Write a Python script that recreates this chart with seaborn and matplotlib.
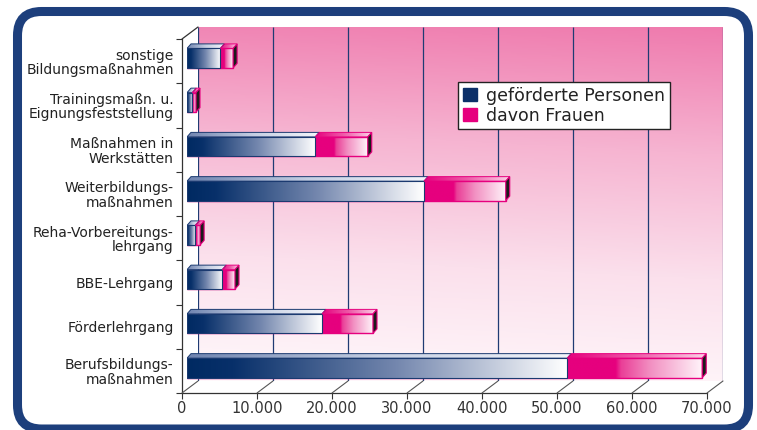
import numpy as np
import pandas as pd
import matplotlib
matplotlib.use("Agg")
import matplotlib.pyplot as plt
import seaborn as sns
from matplotlib.colors import LinearSegmentedColormap
from matplotlib.patches import Polygon, FancyBboxPatch, Patch
from matplotlib.lines import Line2D
from matplotlib.transforms import IdentityTransform

# ---------------- data ----------------
categories = [
    "sonstige\nBildungsmaßnahmen",
    "Trainingsmaßn. u.\nEignungsfeststellung",
    "Maßnahmen in\nWerkstätten",
    "Weiterbildungs-\nmaßnahmen",
    "Reha-Vorbereitungs-\nlehrgang",
    "BBE-Lehrgang",
    "Förderlehrgang",
    "Berufsbildungs-\nmaßnahmen",
]
personen = [4450, 700, 17100, 31600, 1100, 4700, 18000, 50700]
frauen = [1700, 500, 7000, 10900, 650, 1700, 6800, 18000]
x_ticks = [0, 10000, 20000, 30000, 40000, 50000, 60000, 70000]
series_labels = ["geförderte Personen", "davon Frauen"]

# ---------------- style ----------------
NAVY = "#0b2f68"
MAGENTA = "#e6007e"
BORDER = "#1d3f7c"
W, H = 757, 430

sns.set_theme(style="white")
plt.rcParams["font.family"] = ["DejaVu Sans"]

fig = plt.figure(figsize=(W / 100, H / 100), dpi=100)


def rect(x0, y0, x1, y1):
    return [x0 / W, 1 - y1 / H, (x1 - x0) / W, (y1 - y0) / H]


ax_back = fig.add_axes(rect(198, 27, 723, 381), zorder=0)
ax_front = fig.add_axes(rect(182, 39, 707, 393), zorder=1)
ax_bars = fig.add_axes(rect(187, 36, 712, 390), zorder=2)

n = len(categories)
xmax = x_ticks[-1]

# ---------------- back wall ----------------
wall_cmap = LinearSegmentedColormap.from_list(
    "wall", ["#fff8fb", "#fbe0ec", "#f6b4d1", "#ef7bae"])
ny, nx = 200, 300
yy = np.linspace(1, 0, ny)[:, None]
xx = np.linspace(0, 1, nx)[None, :]
field = np.clip(0.93 * yy + 0.07 * xx, 0, 1)
ax_back.imshow(field, cmap=wall_cmap, vmin=0, vmax=1, extent=[0, 1, 0, 1],
               transform=ax_back.transAxes, aspect="auto", zorder=0)
ax_back.set_xlim(0, xmax)
ax_back.set_ylim(0, 1)
ax_back.vlines(x_ticks, 0, 1, colors="#1f3b73", lw=0.9, zorder=1)
for s in ax_back.spines.values():
    s.set_visible(False)
ax_back.set_xticks([])
ax_back.set_yticks([])

# ---------------- front axes (ticks/labels) ----------------
ax_front.set_facecolor("none")
ax_front.set_xlim(0, xmax)
ax_front.set_ylim(n - 0.5, -0.5)
ax_front.set_xticks(x_ticks)
ax_front.set_xticklabels(["0" if v == 0 else f"{v:,}".replace(",", ".") for v in x_ticks])
ax_front.set_yticks(range(n))
ax_front.set_yticklabels(categories)
ax_front.set_yticks(np.arange(-0.5, n, 1.0), minor=True)
ax_front.tick_params(axis="y", which="major", length=0, pad=6, labelsize=10, labelcolor="#222222")
ax_front.tick_params(axis="y", which="minor", length=4, width=0.8, color="#333333", direction="out", left=True)
ax_front.tick_params(axis="x", which="major", length=4, width=0.8, color="#333333", direction="out",
                     pad=2, labelsize=10.5, labelcolor="#333333", bottom=True)
for lab in ax_front.get_yticklabels():
    lab.set_linespacing(1.05)
for side in ["top", "right"]:
    ax_front.spines[side].set_visible(False)
for side in ["left", "bottom"]:
    ax_front.spines[side].set_color("#333333")
    ax_front.spines[side].set_linewidth(0.9)
ax_front.grid(False)

# ---------------- bars ----------------
total = [p + f for p, f in zip(personen, frauen)]
df = pd.DataFrame({"Kategorie": categories, "Personen": personen, "Gesamt": total})

sns.barplot(data=df, y="Kategorie", x="Gesamt", orient="h", color=MAGENTA, saturation=1,
            width=0.44, ax=ax_bars, edgecolor=MAGENTA, linewidth=1.0)
sns.barplot(data=df, y="Kategorie", x="Personen", orient="h", color=NAVY, saturation=1,
            width=0.44, ax=ax_bars, edgecolor="#1b3a70", linewidth=0.8)

patches = list(ax_bars.patches)
pink_bars = patches[:n]
blue_bars = patches[n:2 * n]

blue_cmap = LinearSegmentedColormap.from_list(
    "blue", [(0, "#002a62"), (0.12, "#08306a"), (0.55, "#7487ae"), (1, "#ffffff")])
pink_cmap = LinearSegmentedColormap.from_list(
    "pink", [(0, MAGENTA), (0.36, MAGENTA), (0.40, "#ea3e97"), (0.62, "#f290c2"), (1, "#fff3f9")])
bluetop_cmap = LinearSegmentedColormap.from_list("bt", ["#6f84b0", "#c5cfe3", "#f4f6fb"])
pinktop_cmap = LinearSegmentedColormap.from_list("pt", [MAGENTA, "#ee5aa8", "#fbd3e7"])
grad = np.linspace(0, 1, 256).reshape(1, -1)

ax_bars.set_xlim(0, xmax)
ax_bars.set_ylim(n - 0.5, -0.5)

# depth of the 3D effect (converted from pixels to data units)
dx = 4 * xmax / 525
dy = 4.5 * n / 354


def grad_fill(cmap, x0, x1, ylo, yhi, clip, z):
    im = ax_bars.imshow(grad, cmap=cmap, extent=[x0, x1, yhi, ylo], aspect="auto",
                        zorder=z, interpolation="bilinear")
    im.set_clip_path(clip)
    return im


for pk, bl in zip(pink_bars, blue_bars):
    y0 = bl.get_y()
    h = bl.get_height()
    xb = bl.get_width()
    xt = pk.get_width()

    pk.set_zorder(2)
    bl.set_zorder(4)
    grad_fill(pink_cmap, xb, xt, y0, y0 + h, pk, 1.9)
    grad_fill(blue_cmap, 0, xb, y0, y0 + h, bl, 3.9)
    pk.set_facecolor("none")
    bl.set_facecolor("none")

    # top faces
    btop = Polygon([(0, y0), (xb, y0), (xb + dx, y0 - dy), (dx, y0 - dy)], closed=True,
                   facecolor="none", edgecolor="#1b3a70", lw=0.7, zorder=5)
    ax_bars.add_patch(btop)
    grad_fill(bluetop_cmap, 0, xb + dx, y0 - dy, y0, btop, 4.9)
    ptop = Polygon([(xb, y0), (xt, y0), (xt + dx, y0 - dy), (xb + dx, y0 - dy)], closed=True,
                   facecolor="none", edgecolor=MAGENTA, lw=0.7, zorder=5)
    ax_bars.add_patch(ptop)
    grad_fill(pinktop_cmap, xb, xt + dx, y0 - dy, y0, ptop, 4.9)
    # end face
    side = Polygon([(xt, y0), (xt + dx, y0 - dy), (xt + dx, y0 + h - dy), (xt, y0 + h)], closed=True,
                   facecolor="#1c1c1c", edgecolor=MAGENTA, lw=0.8, zorder=5)
    ax_bars.add_patch(side)

ax_bars.set_xlim(0, xmax)
ax_bars.set_ylim(n - 0.5, -0.5)
ax_bars.axis("off")

# ---------------- floor / frame connectors ----------------
inv = fig.transFigure.inverted()


def connect(p_front, p_back, **kw):
    a = inv.transform(ax_front.transData.transform(p_front))
    b = inv.transform(ax_back.transData.transform(p_back))
    fig.add_artist(Line2D([a[0], b[0]], [a[1], b[1]], transform=fig.transFigure, **kw))


for v in x_ticks:
    connect((v, n - 0.5), (v, 0), color="#555555", lw=0.8, zorder=1.5)
connect((0, -0.5), (0, 1), color="#333333", lw=0.9, zorder=1.5)

# ---------------- legend ----------------
handles = [Patch(facecolor=NAVY, edgecolor=NAVY), Patch(facecolor=MAGENTA, edgecolor=MAGENTA)]
leg = fig.legend(handles, series_labels, loc="upper left", bbox_to_anchor=(458 / W, 1 - 82 / H),
                 bbox_transform=fig.transFigure, frameon=True, fancybox=False, framealpha=1,
                 edgecolor="#222222", fontsize=12.5, handlelength=0.8, handleheight=0.8,
                 handletextpad=0.55, borderpad=0.28, labelspacing=0.1, borderaxespad=0)
leg.get_frame().set_linewidth(1.0)
leg.set_zorder(10)
for t in leg.get_texts():
    t.set_color("#222222")

# ---------------- outer rounded border ----------------
border = FancyBboxPatch((17.5, 1), 731, 417.5, boxstyle="round,pad=0,rounding_size=24",
                        transform=IdentityTransform(), fill=False, edgecolor=BORDER, lw=6.5)
fig.add_artist(border)

fig.savefig("out.png", dpi=100)
